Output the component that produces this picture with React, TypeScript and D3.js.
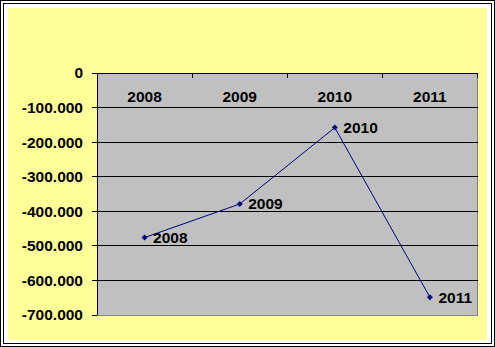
import React from "react";
import * as d3 from "d3";

const years = ["2008", "2009", "2010", "2011"];
const values = [-476000, -379000, -158000, -649000];
const yTicks = [0, -100000, -200000, -300000, -400000, -500000, -600000, -700000];

const W = 495;
const H = 347;
const plot = { left: 97, top: 73, right: 477.5, bottom: 315 };
const FONT = "'Liberation Sans', Arial, sans-serif";

function fmt(v: number): string {
  // thousands separated with dots
  const s = d3.format(",")(v);
  return s.replace(/,/g, ".").replace("−", "-");
}

export default function App() {
  const x = d3
    .scaleBand<string>()
    .domain(years)
    .range([plot.left, plot.right]);
  const y = d3
    .scaleLinear()
    .domain([0, -700000])
    .range([plot.top, plot.bottom]);

  const line = d3
    .line<number>()
    .x((_, i) => x(years[i])! + x.bandwidth() / 2)
    .y((d) => y(d));

  const marker = d3.symbol(d3.symbolSquare, 18)()!;

  return (
    <svg
      width={W}
      height={H}
      style={{ position: "absolute", left: 0, top: 0, display: "block" }}
    >
      <rect x={0} y={0} width={W} height={H} fill="#fff" />
      <rect x={0.5} y={0.5} width={494} height={346} fill="none" stroke="#000" />
      <rect x={3.5} y={3.5} width={488} height={340} fill="none" stroke="#000" />
      <rect x={8} y={8} width={479} height={332} fill="#FFFF99" />

      {/* plot area */}
      <rect
        x={plot.left}
        y={plot.top}
        width={plot.right - plot.left}
        height={plot.bottom - plot.top}
        fill="#C0C0C0"
        stroke="#808080"
        strokeWidth={1}
        shapeRendering="crispEdges"
      />

      {/* gridlines */}
      {yTicks.slice(1, -1).map((t) => (
        <line
          key={t}
          x1={plot.left}
          x2={plot.right}
          y1={y(t)}
          y2={y(t)}
          stroke="#000"
          shapeRendering="crispEdges"
        />
      ))}

      {/* value axis */}
      <line
        x1={plot.left}
        x2={plot.left}
        y1={plot.top}
        y2={plot.bottom}
        stroke="#000"
        shapeRendering="crispEdges"
      />
      {yTicks.map((t) => (
        <g key={t}>
          <line
            x1={plot.left - 5}
            x2={plot.left}
            y1={y(t)}
            y2={y(t)}
            stroke="#000"
            shapeRendering="crispEdges"
          />
          <text
            x={plot.left - 14}
            y={y(t)}
            dy="0.35em"
            textAnchor="end"
            fontFamily={FONT}
            fontWeight="bold"
            fontSize={15.5}
            fill="#000"
          >
            {fmt(t)}
          </text>
        </g>
      ))}

      {/* category axis along the zero line */}
      <line
        x1={plot.left}
        x2={plot.right}
        y1={y(0)}
        y2={y(0)}
        stroke="#000"
        shapeRendering="crispEdges"
      />
      {years.map((yr) => (
        <g key={yr}>
          <line
            x1={x(yr)! + x.bandwidth()}
            x2={x(yr)! + x.bandwidth()}
            y1={y(0)}
            y2={y(0) + 5}
            stroke="#000"
            shapeRendering="crispEdges"
          />
          <text
            x={x(yr)! + x.bandwidth() / 2}
            y={y(0) + 24}
            dy="0.35em"
            textAnchor="middle"
            fontFamily={FONT}
            fontWeight="bold"
            fontSize={15.5}
            fill="#000"
          >
            {yr}
          </text>
        </g>
      ))}

      {/* series */}
      <path d={line(values)!} fill="none" stroke="#000080" strokeWidth={1} />
      {values.map((v, i) => {
        const cx = x(years[i])! + x.bandwidth() / 2;
        const cy = y(v);
        return (
          <g key={years[i]}>
            <path
              d={marker}
              transform={`translate(${cx},${cy}) rotate(45)`}
              fill="#000080"
            />
            <text
              x={cx + 8.5}
              y={cy}
              dy="0.35em"
              fontFamily={FONT}
              fontWeight="bold"
              fontSize={15.5}
              fill="#000"
            >
              {years[i]}
            </text>
          </g>
        );
      })}
    </svg>
  );
}
